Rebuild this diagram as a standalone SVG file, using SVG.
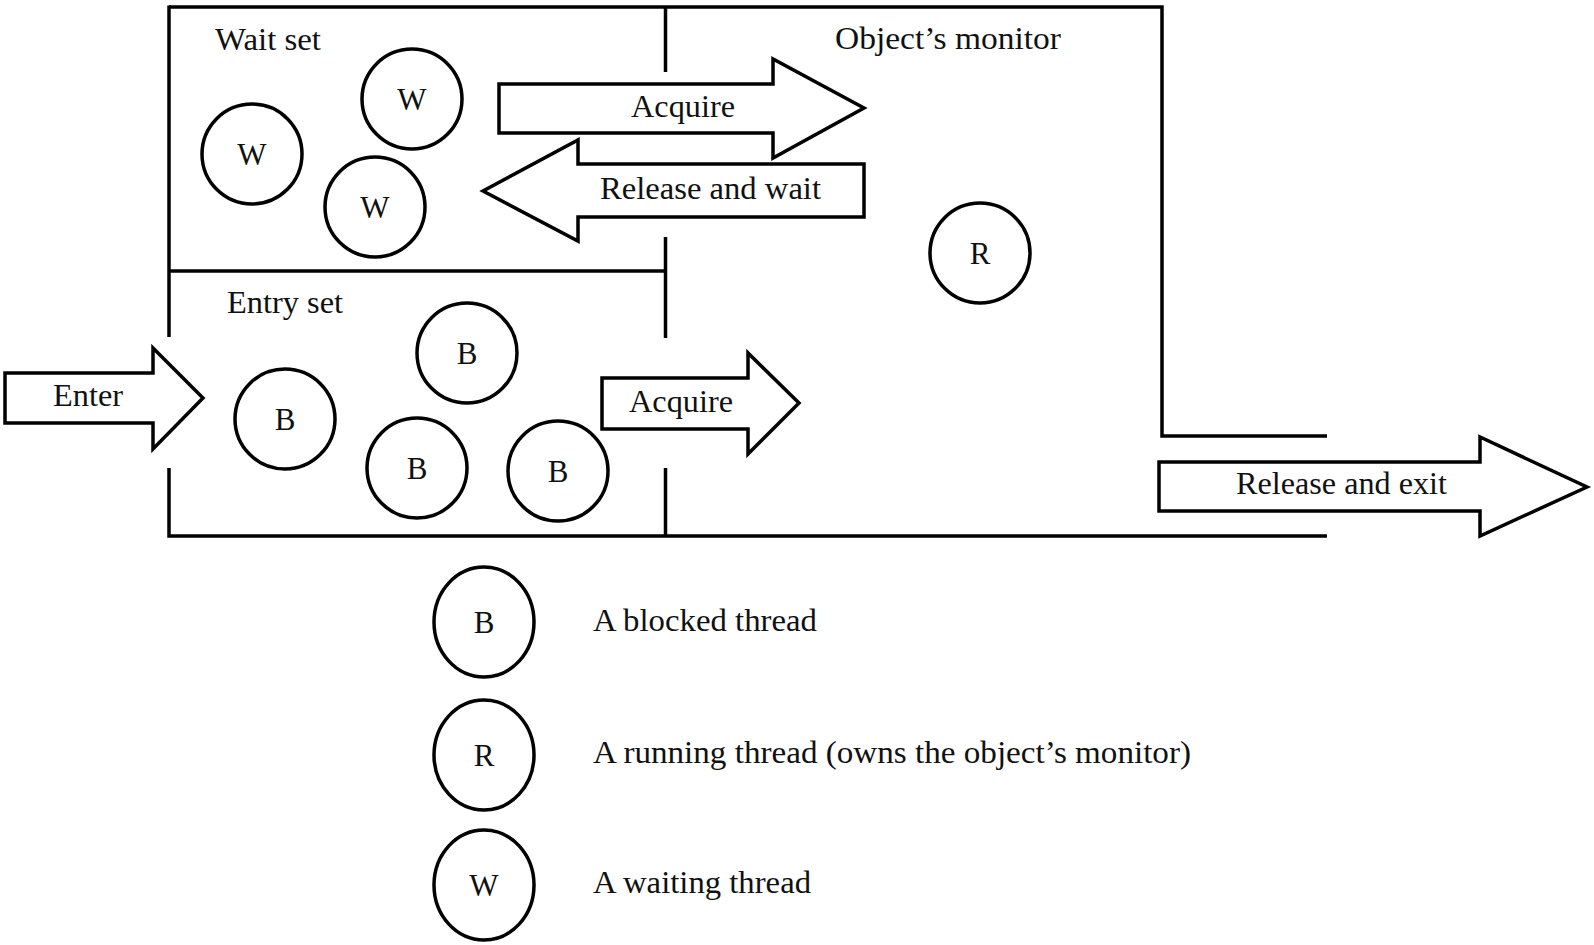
<svg xmlns="http://www.w3.org/2000/svg" width="1594" height="945" viewBox="0 0 1594 945">
<style>
  .ln { fill: none; stroke: #000; stroke-width: 3.5; stroke-linecap: butt; }
  .shape { fill: #fff; stroke: #000; stroke-width: 3.5; stroke-linejoin: miter; }
  .t { font-family: "Liberation Serif", "Times New Roman", serif; font-size: 32px; fill: #111; }
  .c { font-family: "Liberation Serif", "Times New Roman", serif; font-size: 31px; fill: #111; text-anchor: middle; }
</style>
<rect width="1594" height="945" fill="#fff"/>
<g id="frame">
  <path class="ln" d="M169,7 H1162 V436 H1327"/>
  <path class="ln" d="M169,5.5 V337"/>
  <path class="ln" d="M169,468 V536 H1327"/>
  <path class="ln" d="M665.5,7 V72"/>
  <path class="ln" d="M665.5,237 V338"/>
  <path class="ln" d="M665.5,468 V536"/>
  <path class="ln" d="M169,271 H665.5"/>
  <text class="t" x="215" y="50" textLength="106" lengthAdjust="spacingAndGlyphs">Wait set</text>
  <text class="t" x="835" y="49" textLength="226" lengthAdjust="spacingAndGlyphs">Object’s monitor</text>
  <text class="t" x="227" y="313" textLength="116" lengthAdjust="spacingAndGlyphs">Entry set</text>
</g>
<g id="connectors">
  <g id="acquire-top">
    <polygon class="shape" points="499,84 773,84 773,59 864,108 773,158 773,133 499,133"/>
    <text class="t" x="631" y="117" textLength="104" lengthAdjust="spacingAndGlyphs">Acquire</text>
  </g>
  <g id="release-wait">
    <polygon class="shape" points="864,164 578,164 578,140 483,191 578,241 578,217 864,217"/>
    <text class="t" x="600" y="199" textLength="221" lengthAdjust="spacingAndGlyphs">Release and wait</text>
  </g>
  <g id="enter">
    <polygon class="shape" points="5,373 153,373 153,348 203,398 153,449 153,423 5,423"/>
    <text class="t" x="53" y="406" textLength="70" lengthAdjust="spacingAndGlyphs">Enter</text>
  </g>
  <g id="acquire-bottom">
    <polygon class="shape" points="602,378 748,378 748,353 799,403 748,454 748,429 602,429"/>
    <text class="t" x="629" y="412" textLength="104" lengthAdjust="spacingAndGlyphs">Acquire</text>
  </g>
  <g id="release-exit">
    <polygon class="shape" points="1159,462 1480,462 1480,437 1587,487 1480,536 1480,511 1159,511"/>
    <text class="t" x="1236" y="494" textLength="211" lengthAdjust="spacingAndGlyphs">Release and exit</text>
  </g>
</g>
<g id="w1"><circle class="shape" cx="252" cy="154" r="50"/><text class="c" x="252" y="165">W</text></g>
<g id="w2"><circle class="shape" cx="412" cy="99" r="50"/><text class="c" x="412" y="110">W</text></g>
<g id="w3"><circle class="shape" cx="375" cy="207" r="50"/><text class="c" x="375" y="218">W</text></g>
<g id="r1"><circle class="shape" cx="980" cy="253" r="50"/><text class="c" x="980" y="264">R</text></g>
<g id="b1"><circle class="shape" cx="285" cy="419" r="50"/><text class="c" x="285" y="430">B</text></g>
<g id="b2"><circle class="shape" cx="467" cy="353" r="50"/><text class="c" x="467" y="364">B</text></g>
<g id="b3"><circle class="shape" cx="417" cy="468" r="50"/><text class="c" x="417" y="479">B</text></g>
<g id="b4"><circle class="shape" cx="558" cy="471" r="50"/><text class="c" x="558" y="482">B</text></g>
<g id="legend-b"><ellipse class="shape" cx="484" cy="622" rx="50" ry="55"/><text class="c" x="484" y="633">B</text>
  <text class="t" x="593" y="631" textLength="224" lengthAdjust="spacingAndGlyphs">A blocked thread</text></g>
<g id="legend-r"><ellipse class="shape" cx="484" cy="755" rx="50" ry="55"/><text class="c" x="484" y="766">R</text>
  <text class="t" x="593" y="763" textLength="598" lengthAdjust="spacingAndGlyphs">A running thread (owns the object’s monitor)</text></g>
<g id="legend-w"><ellipse class="shape" cx="484" cy="885" rx="50" ry="55"/><text class="c" x="484" y="896">W</text>
  <text class="t" x="593" y="893" textLength="218" lengthAdjust="spacingAndGlyphs">A waiting thread</text></g>
</svg>
